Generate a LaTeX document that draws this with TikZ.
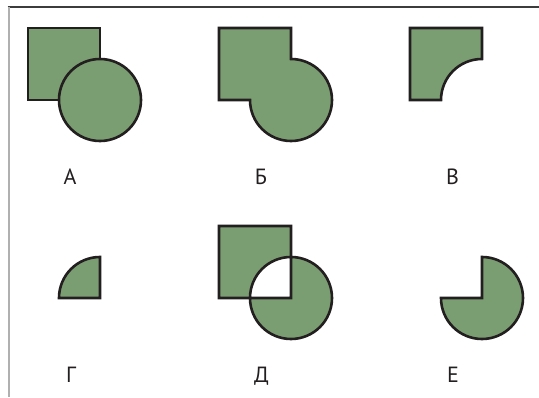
\documentclass[tikz,border=0pt]{standalone}
\usepackage{fontspec}
\setmainfont{PT Sans}
\usetikzlibrary{positioning}
\definecolor{leaf}{HTML}{7A9E71}
\definecolor{ink}{HTML}{231F20}
\definecolor{rule}{HTML}{3C3C3C}
\definecolor{rulelight}{HTML}{B0B0B0}
\tikzset{line join=round,
  blob/.style={fill=leaf,draw=ink,line width=2.6pt},
  tag/.style={anchor=base,inner sep=0pt,font=\fontsize{22}{26}\selectfont,text=ink},
  frameline/.style={line width=2pt}}

\begin{document}
\begin{tikzpicture}[x=1pt,y=1pt]
\useasboundingbox (0,0) rectangle (539,397);
\draw[frameline,rule] (7.5,389.5)--(539,389.5);
\draw[frameline,rulelight] (8.5,389.5)--(8.5,0);
% top row
\filldraw[blob] (28,297) rectangle (100,369);
\filldraw[blob] (100,297) circle(41);
\filldraw[blob] (219,369)--(291,369)--(291,338) arc[start angle=90,end angle=-180,radius=41]--(219,297)--cycle;
\filldraw[blob] (410,369)--(482,369)--(482,338) arc[start angle=90,end angle=180,radius=41]--(410,297)--cycle;
% bottom row
\filldraw[blob] (100,99)--(100,140) arc[start angle=90,end angle=180,radius=41]--cycle;
\filldraw[blob,even odd rule] (219,99) rectangle (291,171) (291,99) circle(41);
\filldraw[blob] (482,99)--(482,140) arc[start angle=90,end angle=-180,radius=41]--cycle;
% labels
\node[tag] (labA) at (70,212) {А};
\node[tag] (labB) at (261,212) {Б};
\node[tag] (labV) at (452.5,212) {В};
\node[tag] (labG) at (71,15) {Г};
\node[tag] (labD) at (261.5,15) {Д};
\node[tag] (labE) at (453,15) {Е};
\end{tikzpicture}
\end{document}
